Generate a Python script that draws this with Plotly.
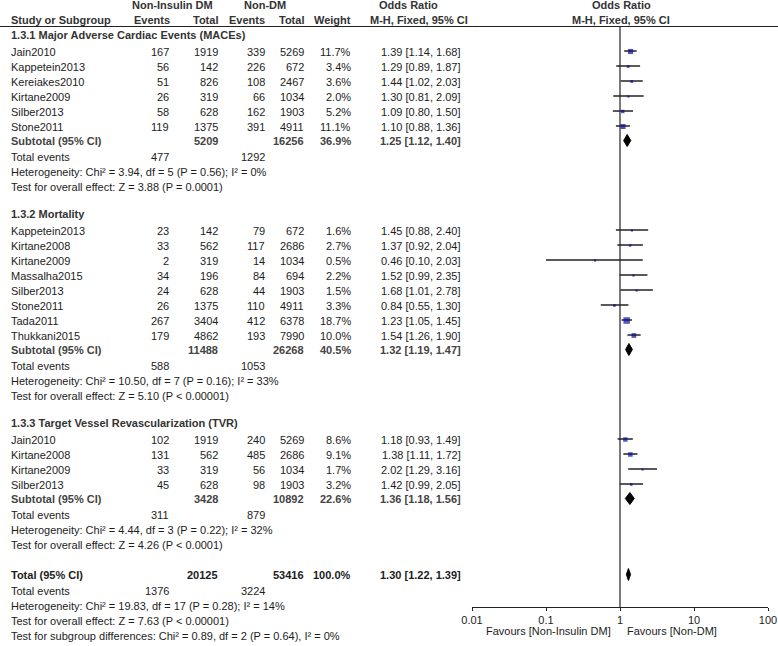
import plotly.graph_objects as go

# ---------------- data ----------------
section_titles = ["1.3.1 Major Adverse Cardiac Events (MACEs)", "1.3.2 Mortality",
                  "1.3.3 Target Vessel Revascularization (TVR)"]

mace_names = ["Jain2010", "Kappetein2013", "Kereiakes2010", "Kirtane2009", "Silber2013", "Stone2011"]
mace_ev1 = [167, 56, 51, 26, 58, 119]
mace_n1 = [1919, 142, 826, 319, 628, 1375]
mace_ev2 = [339, 226, 108, 66, 162, 391]
mace_n2 = [5269, 672, 2467, 1034, 1903, 4911]
mace_w = [11.7, 3.4, 3.6, 2.0, 5.2, 11.1]
mace_or = [1.39, 1.29, 1.44, 1.30, 1.09, 1.10]
mace_lo = [1.14, 0.89, 1.02, 0.81, 0.80, 0.88]
mace_hi = [1.68, 1.87, 2.03, 2.09, 1.50, 1.36]

mort_names = ["Kappetein2013", "Kirtane2008", "Kirtane2009", "Massalha2015", "Silber2013",
              "Stone2011", "Tada2011", "Thukkani2015"]
mort_ev1 = [23, 33, 2, 34, 24, 26, 267, 179]
mort_n1 = [142, 562, 319, 196, 628, 1375, 3404, 4862]
mort_ev2 = [79, 117, 14, 84, 44, 110, 412, 193]
mort_n2 = [672, 2686, 1034, 694, 1903, 4911, 6378, 7990]
mort_w = [1.6, 2.7, 0.5, 2.2, 1.5, 3.3, 18.7, 10.0]
mort_or = [1.45, 1.37, 0.46, 1.52, 1.68, 0.84, 1.23, 1.54]
mort_lo = [0.88, 0.92, 0.10, 0.99, 1.01, 0.55, 1.05, 1.26]
mort_hi = [2.40, 2.04, 2.03, 2.35, 2.78, 1.30, 1.45, 1.90]

tvr_names = ["Jain2010", "Kirtane2008", "Kirtane2009", "Silber2013"]
tvr_ev1 = [102, 131, 33, 45]
tvr_n1 = [1919, 562, 319, 628]
tvr_ev2 = [240, 485, 56, 98]
tvr_n2 = [5269, 2686, 1034, 1903]
tvr_w = [8.6, 9.1, 1.7, 3.2]
tvr_or = [1.18, 1.38, 2.02, 1.42]
tvr_lo = [0.93, 1.11, 1.29, 0.99]
tvr_hi = [1.49, 1.72, 3.16, 2.05]

sub_n1 = [5209, 11488, 3428]
sub_n2 = [16256, 26268, 10892]
sub_w = [36.9, 40.5, 22.6]
sub_or = [1.25, 1.32, 1.36]
sub_lo = [1.12, 1.19, 1.18]
sub_hi = [1.40, 1.47, 1.56]
sub_ev1 = [477, 588, 311]
sub_ev2 = [1292, 1053, 879]
sub_het = ["Heterogeneity: Chi² = 3.94, df = 5 (P = 0.56); I² = 0%",
           "Heterogeneity: Chi² = 10.50, df = 7 (P = 0.16); I² = 33%",
           "Heterogeneity: Chi² = 4.44, df = 3 (P = 0.22); I² = 32%"]
sub_test = ["Test for overall effect: Z = 3.88 (P = 0.0001)",
            "Test for overall effect: Z = 5.10 (P < 0.00001)",
            "Test for overall effect: Z = 4.26 (P < 0.0001)"]

tot_n1 = 20125
tot_n2 = 53416
tot_w = 100.0
tot_or = 1.30
tot_lo = 1.22
tot_hi = 1.39
tot_ev1 = 1376
tot_ev2 = 3224
tot_het = "Heterogeneity: Chi² = 19.83, df = 17 (P = 0.28); I² = 14%"
tot_test = "Test for overall effect: Z = 7.63 (P < 0.00001)"
tot_sub = "Test for subgroup differences: Chi² = 0.89, df = 2 (P = 0.64), I² = 0%"

tick_vals = [0.01, 0.1, 1, 10, 100]
tick_text = ["0.01", "0.1", "1", "10", "100"]
favours_left = "Favours [Non-Insulin DM]"
favours_right = "Favours [Non-DM]"

sections = [
    (mace_names, mace_ev1, mace_n1, mace_ev2, mace_n2, mace_w, mace_or, mace_lo, mace_hi),
    (mort_names, mort_ev1, mort_n1, mort_ev2, mort_n2, mort_w, mort_or, mort_lo, mort_hi),
    (tvr_names, tvr_ev1, tvr_n1, tvr_ev2, tvr_n2, tvr_w, tvr_or, tvr_lo, tvr_hi),
]

# ---------------- layout constants (pixels) ----------------
W, H = 778, 646
FONT = "Liberation Sans, Arial, sans-serif"
FS = 11
TXT = "#1c1c1c"
SUBC = "#444444"
HEADC = "#333333"
BLUE = "#0c0ca0"
X_LABEL = 9
X_EV1, X_N1, X_EV2, X_N2, X_W, X_OR = 171, 220, 267, 306, 353, 463
AXIS_Y = 607

annotations = []


def txt(x, y, s, anchor="left", bold=False, color=TXT):
    annotations.append(dict(
        x=x / W, y=y, xref="paper", yref="y", text=f"<b>{s}</b>" if bold else s,
        showarrow=False, xanchor=anchor, yanchor="middle",
        font=dict(family=FONT, size=FS, color=color)))


# headers
txt(172, 5, "Non-Insulin DM", "center", True, HEADC)
txt(265, 5, "Non-DM", "center", True, HEADC)
txt(408, 5, "Odds Ratio", "center", True, HEADC)
txt(621, 5, "Odds Ratio", "center", True, HEADC)
txt(X_LABEL, 20, "Study or Subgroup", "left", True, HEADC)
txt(X_EV1 + 1, 20, "Events", "right", True, HEADC)
txt(X_N1, 20, "Total", "right", True, HEADC)
txt(X_EV2, 20, "Events", "right", True, HEADC)
txt(X_N2, 20, "Total", "right", True, HEADC)
txt(X_W, 20, "Weight", "right", True, HEADC)
txt(368, 20, "M-H, Fixed, 95% CI", "left", True, HEADC)
txt(621, 20, "M-H, Fixed, 95% CI", "center", True, HEADC)

sq_x, sq_y, sq_s = [], [], []
ci_x, ci_y = [], []
dm_x, dm_y = [], []


def diamond(est, lo, hi, y, h=6):
    dm_x.extend([lo, est, hi, est, lo, None])
    dm_y.extend([y, y - h, y, y + h, y, None])


y = 35
for si, sec in enumerate(sections):
    names, ev1, n1, ev2, n2, w, orv, lo, hi = sec
    txt(X_LABEL, y, section_titles[si], "left", True, HEADC)
    y += 16.5
    for i in range(len(names)):
        txt(X_LABEL, y, names[i])
        txt(X_EV1, y, str(ev1[i]), "right")
        txt(X_N1, y, str(n1[i]), "right")
        txt(X_EV2, y, str(ev2[i]), "right")
        txt(X_N2, y, str(n2[i]), "right")
        txt(X_W, y, f"{w[i]:.1f}%", "right")
        txt(X_OR, y, f"{orv[i]:.2f} [{lo[i]:.2f}, {hi[i]:.2f}]", "right")
        ci_x.extend([lo[i], hi[i], None])
        ci_y.extend([y - 0.5, y - 0.5, None])
        sq_x.append(orv[i])
        sq_y.append(y)
        sq_s.append(max(2.2, 1.5 * w[i] ** 0.5))
        y += 15
    y -= 1
    txt(X_LABEL, y, "Subtotal (95% CI)", "left", True, SUBC)
    txt(X_N1, y, str(sub_n1[si]), "right", True, SUBC)
    txt(X_N2, y, str(sub_n2[si]), "right", True, SUBC)
    txt(X_W, y, f"{sub_w[si]:.1f}%", "right", True, SUBC)
    txt(X_OR, y, f"{sub_or[si]:.2f} [{sub_lo[si]:.2f}, {sub_hi[si]:.2f}]", "right", True, SUBC)
    diamond(sub_or[si], sub_lo[si], sub_hi[si], y)
    y += 16.5
    txt(X_LABEL, y, "Total events")
    txt(X_EV1, y, str(sub_ev1[si]), "right")
    txt(X_EV2, y, str(sub_ev2[si]), "right")
    y += 15
    txt(X_LABEL, y, sub_het[si])
    y += 15
    txt(X_LABEL, y, sub_test[si])
    y += 27

y += 2.5
txt(X_LABEL, y, "Total (95% CI)", "left", True, TXT)
txt(X_N1, y, str(tot_n1), "right", True, TXT)
txt(X_N2, y, str(tot_n2), "right", True, TXT)
txt(X_W, y, f"{tot_w:.1f}%", "right", True, TXT)
txt(X_OR, y, f"{tot_or:.2f} [{tot_lo:.2f}, {tot_hi:.2f}]", "right", True, TXT)
diamond(tot_or, tot_lo, tot_hi, y)
y += 16.5
txt(X_LABEL, y, "Total events")
txt(X_EV1, y, str(tot_ev1), "right")
txt(X_EV2, y, str(tot_ev2), "right")
y += 15
txt(X_LABEL, y, tot_het)
y += 15
txt(X_LABEL, y, tot_test)
y += 15
txt(X_LABEL, y, tot_sub)

# favours labels
txt(613, 631, favours_left, "right")
txt(625, 631, favours_right, "left")

fig = go.Figure()
fig.add_trace(go.Scatter(x=ci_x, y=ci_y, mode="lines",
                         line=dict(color="#222222", width=1.5), hoverinfo="skip"))
fig.add_trace(go.Scatter(x=sq_x, y=sq_y, mode="markers",
                         marker=dict(symbol="square", size=sq_s, color=BLUE, line=dict(width=0)),
                         hoverinfo="skip"))
fig.add_trace(go.Scatter(x=dm_x, y=dm_y, mode="lines", fill="toself", fillcolor="#000000",
                         line=dict(color="#000000", width=1), hoverinfo="skip"))

shapes = [
    dict(type="line", xref="paper", yref="y", x0=0, x1=1, y0=26.5, y1=26.5,
         line=dict(color="#222222", width=1.2)),
    dict(type="line", xref="x", yref="y", x0=1, x1=1, y0=26.5, y1=AXIS_Y,
         line=dict(color="#222222", width=1.2)),
]

fig.update_layout(
    width=W, height=H, margin=dict(l=0, r=0, t=0, b=0, pad=0, autoexpand=False),
    paper_bgcolor="white", plot_bgcolor="rgba(0,0,0,0)",
    showlegend=False, annotations=annotations, shapes=shapes,
    xaxis=dict(type="log", range=[-2, 2], domain=[472 / W, 768 / W],
               anchor="free", position=1 - AXIS_Y / H, automargin=False,
               showgrid=False, zeroline=False, showline=True, linecolor="#222222", linewidth=1.2,
               ticks="outside", ticklen=3, tickcolor="#222222", tickwidth=1.2,
               tickvals=tick_vals, ticktext=tick_text,
               tickfont=dict(family=FONT, size=FS, color=TXT)),
    yaxis=dict(range=[H, 0], domain=[0, 1], visible=False, showgrid=False, zeroline=False,
               automargin=False),
)

fig.write_html("out.html", config={"displayModeBar": False},
               post_script="document.body.style.margin='0';document.body.style.overflow='hidden';")
